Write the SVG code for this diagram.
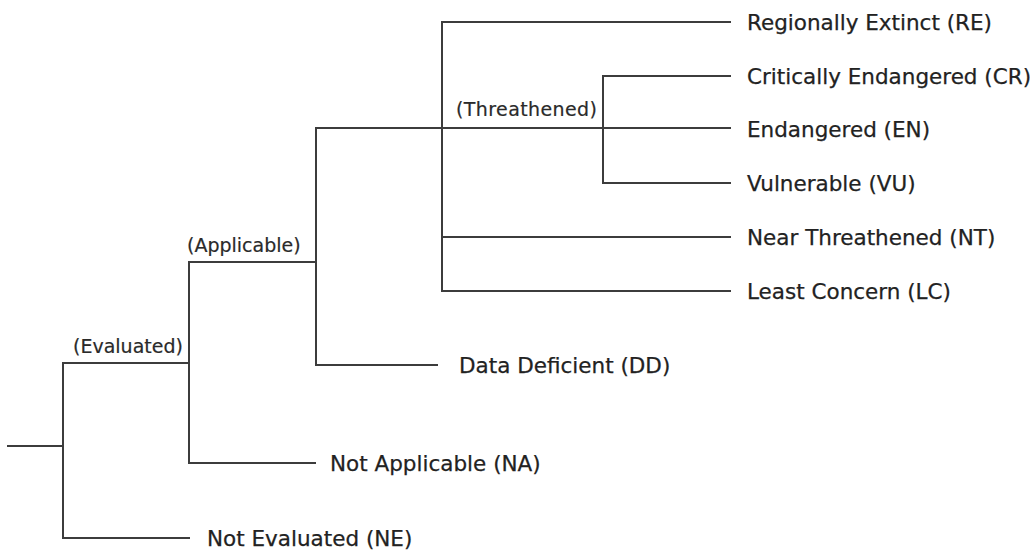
<svg xmlns="http://www.w3.org/2000/svg" width="1030" height="550" viewBox="0 0 1030 550">
<style>
.c{stroke:#3c3c3c;stroke-width:2;fill:none;stroke-linecap:square}
.t{font-family:"DejaVu Sans",Verdana,sans-serif;font-size:21.5px;fill:#222;stroke:#222;stroke-width:0.25}
.l{font-family:"DejaVu Sans",Verdana,sans-serif;font-size:19px;fill:#2a2a2a;stroke:#2a2a2a;stroke-width:0.2}
</style>
<rect width="1030" height="550" fill="#fff"/>
<g id="connectors" class="c">
<path d="M8,446H63M63,363V538M63,363H189M63,538H189"/>
<path d="M189,262V463M189,262H316M189,463H315"/>
<path d="M316,128V365M316,128H730M316,365H437"/>
<path d="M442,22V291M442,22H730M442,237H730M442,291H730"/>
<path d="M603,76V183M603,76H730M603,183H730"/>
</g>
<g id="evaluated"><text class="l" x="73" y="353">(Evaluated)</text></g>
<g id="applicable"><text class="l" x="187" y="252">(Applicable)</text></g>
<g id="threatened"><text class="l" x="456" y="116" textLength="141">(Threathened)</text></g>
<g id="re"><text class="t" x="747" y="30">Regionally Extinct (RE)</text></g>
<g id="cr"><text class="t" x="747" y="84">Critically Endangered (CR)</text></g>
<g id="en"><text class="t" x="747" y="137">Endangered (EN)</text></g>
<g id="vu"><text class="t" x="747" y="191">Vulnerable (VU)</text></g>
<g id="nt"><text class="t" x="747" y="245">Near Threathened (NT)</text></g>
<g id="lc"><text class="t" x="747" y="299">Least Concern (LC)</text></g>
<g id="dd"><text class="t" x="459" y="373">Data Deficient (DD)</text></g>
<g id="na"><text class="t" x="330" y="471">Not Applicable (NA)</text></g>
<g id="ne"><text class="t" x="207" y="546">Not Evaluated (NE)</text></g>
</svg>
